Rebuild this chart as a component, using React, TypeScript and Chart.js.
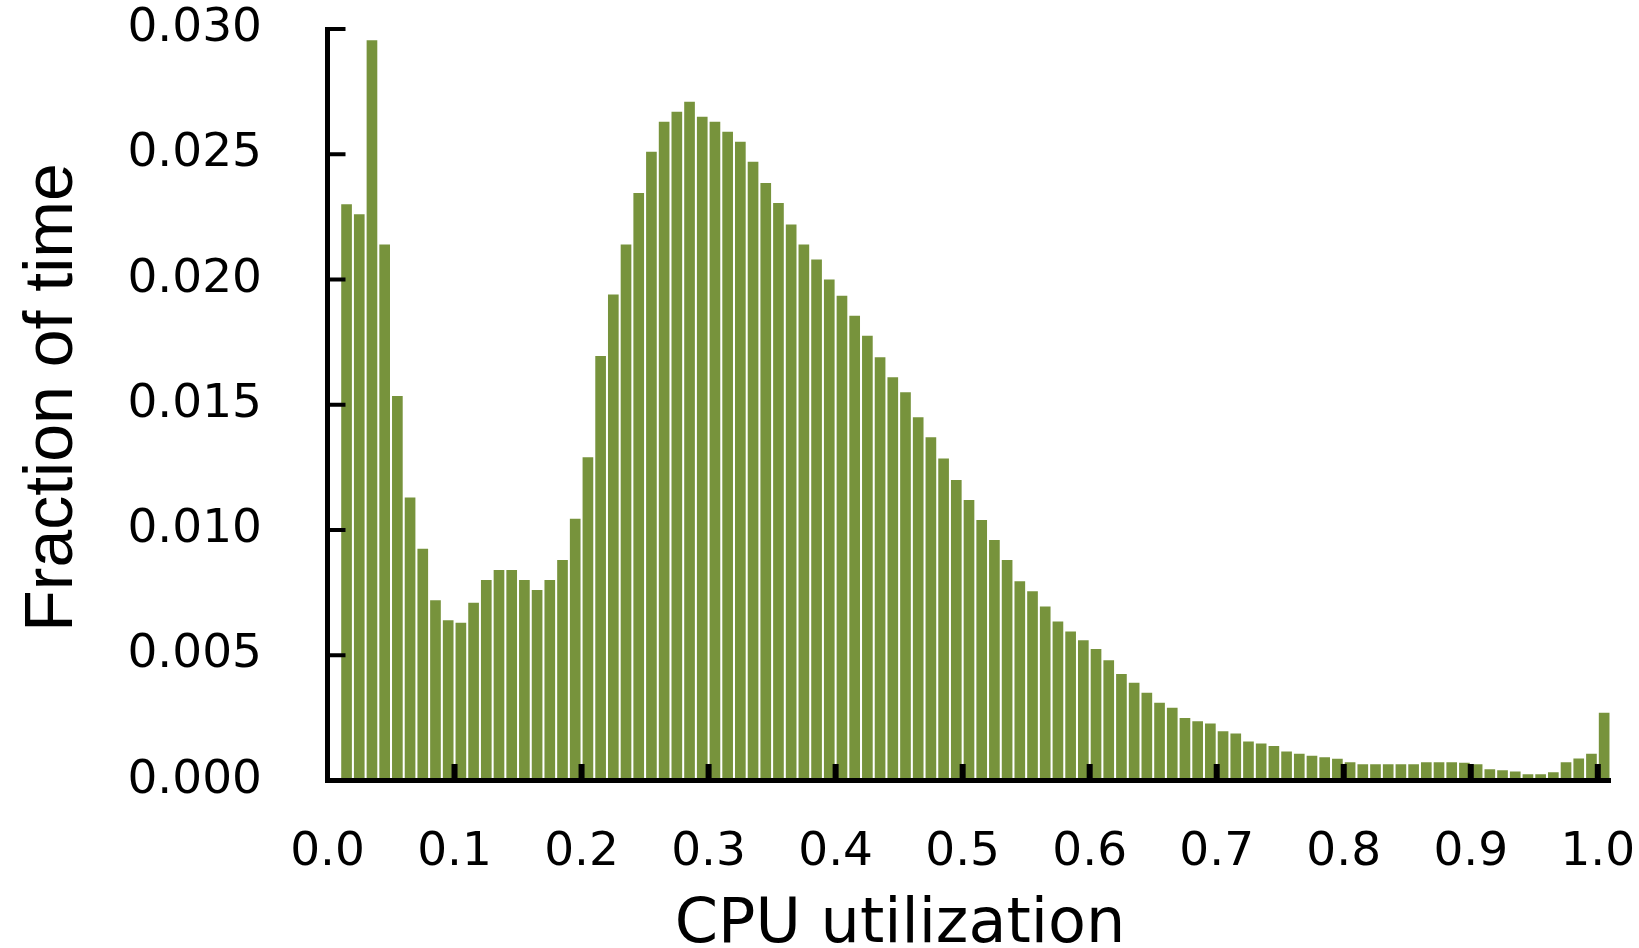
import React, { useEffect, useRef } from 'react';
import { Chart, registerables } from 'chart.js';

Chart.register(...registerables);

// Histogram bins: left edges start at 0.01, each 0.01 wide (100 bins)
const BIN_START = 0.01;
const BIN_WIDTH = 0.01;

// Fraction of time spent in each CPU-utilization bin
const FRACTION_OF_TIME = [
  0.0230, 0.0226, 0.02955, 0.0214, 0.01535, 0.0113, 0.00925, 0.0072, 0.0064, 0.0063,
  0.0071, 0.0080, 0.0084, 0.0084, 0.0080, 0.0076, 0.0080, 0.0088, 0.01045, 0.0129,
  0.01695, 0.0194, 0.0214, 0.02345, 0.0251, 0.0263, 0.0267, 0.0271, 0.0265, 0.0263,
  0.0259, 0.0255, 0.0247, 0.02385, 0.02305, 0.0222, 0.0214, 0.0208, 0.0200, 0.01935,
  0.01855, 0.01775, 0.0169, 0.0161, 0.0155, 0.0145, 0.0137, 0.01285, 0.0120, 0.0112,
  0.0104, 0.0096, 0.0088, 0.00795, 0.00755, 0.00695, 0.00635, 0.00595, 0.0056, 0.00525,
  0.0048, 0.00425, 0.0039, 0.0035, 0.0031, 0.0029, 0.0025, 0.00237, 0.00228, 0.00197,
  0.00188, 0.00156, 0.00148, 0.00138, 0.00116, 0.00107, 0.00099, 0.00093, 0.00087, 0.00073,
  0.00065, 0.00065, 0.00065, 0.00065, 0.00065, 0.00073, 0.00073, 0.00073, 0.00071, 0.00065,
  0.00045, 0.00041, 0.00036, 0.00025, 0.00025, 0.00033, 0.00073, 0.00088, 0.00107, 0.0027,
];

const X_TICKS = [0.0, 0.1, 0.2, 0.3, 0.4, 0.5, 0.6, 0.7, 0.8, 0.9, 1.0];
const X_TICK_LABELS = ['0.0', '0.1', '0.2', '0.3', '0.4', '0.5', '0.6', '0.7', '0.8', '0.9', '1.0'];
const Y_TICKS = [0.0, 0.005, 0.01, 0.015, 0.02, 0.025, 0.03];
const Y_TICK_LABELS = ['0.000', '0.005', '0.010', '0.015', '0.020', '0.025', '0.030'];

const X_TITLE = 'CPU utilization';
const Y_TITLE = 'Fraction of time';

const BAR_COLOR = '#77933C';
const TICK_FONT = "'DejaVu Sans', sans-serif";

const W = 1639;
const H = 948;

const zeroPadding = (scale: any) => {
  scale.paddingTop = 0;
  scale.paddingBottom = 0;
  scale.paddingLeft = 0;
  scale.paddingRight = 0;
};

const decorPlugin = {
  id: 'axisDecor',
  afterDatasetsDraw(chart: any) {
    const { ctx, chartArea, scales } = chart;
    const xs = scales.x;
    const ys = scales.y;
    ctx.save();
    ctx.fillStyle = '#000';
    // inward x tick marks
    X_TICKS.forEach((v) => {
      if (v === 0) return;
      const px = xs.getPixelForValue(v);
      ctx.fillRect(px - 3, chartArea.bottom - 16.5, 6, 16.5);
    });
    // inward y tick marks
    Y_TICKS.forEach((v) => {
      if (v === 0) return;
      const py = ys.getPixelForValue(v);
      ctx.fillRect(chartArea.left, py - 2, 18, 4);
    });
    ctx.restore();
  },
  afterDraw(chart: any) {
    const { ctx } = chart;
    ctx.save();
    ctx.fillStyle = '#000';
    // x axis title
    ctx.font = "62px 'DejaVu Sans', sans-serif";
    ctx.textAlign = 'center';
    ctx.textBaseline = 'alphabetic';
    ctx.fillText(X_TITLE, 900, 941.5);
    // y axis title (rotated)
    ctx.translate(71.5, 397.5);
    ctx.rotate(-Math.PI / 2);
    ctx.font = "68px 'Liberation Sans', sans-serif";
    ctx.textAlign = 'center';
    ctx.textBaseline = 'alphabetic';
    ctx.fillText(Y_TITLE, 0, 0);
    ctx.restore();
  },
};

export default function App() {
  const canvasRef = useRef<HTMLCanvasElement | null>(null);

  useEffect(() => {
    document.body.style.margin = '0';
    const canvas = canvasRef.current;
    if (!canvas) return;

    const points = FRACTION_OF_TIME.map((v, i) => ({
      x: BIN_START + i * BIN_WIDTH + BIN_WIDTH / 2,
      y: v,
    }));

    const chart = new Chart(canvas, {
      type: 'bar',
      data: {
        datasets: [
          {
            data: points as any,
            backgroundColor: BAR_COLOR,
            borderWidth: 0,
            barPercentage: 0.84,
            categoryPercentage: 1.0,
          },
        ],
      },
      options: {
        animation: false,
        responsive: false,
        devicePixelRatio: 1,
        layout: { padding: { top: 29, right: 28.5, left: 0, bottom: 0 } },
        plugins: {
          legend: { display: false },
          tooltip: { enabled: false },
          title: { display: false },
        },
        scales: {
          x: {
            type: 'linear',
            min: 0,
            max: 1.01,
            offset: false,
            grid: { display: false, offset: false, drawTicks: false },
            border: { display: true, color: '#000', width: 5, z: 1 },
            afterBuildTicks: (scale: any) => {
              scale.ticks = X_TICKS.map((value) => ({ value }));
            },
            afterFit: (scale: any) => {
              scale.height = H - 780.5;
              zeroPadding(scale);
            },
            ticks: {
              autoSkip: false,
              maxRotation: 0,
              minRotation: 0,
              padding: 44,
              color: '#000',
              font: { family: TICK_FONT, size: 47 },
              callback: (_v: any, index: number) => X_TICK_LABELS[index],
            },
          },
          y: {
            type: 'linear',
            min: 0,
            max: 0.03,
            grid: { display: false, drawTicks: false },
            border: { display: true, color: '#000', width: 5, z: 1 },
            afterBuildTicks: (scale: any) => {
              scale.ticks = Y_TICKS.map((value) => ({ value }));
            },
            afterFit: (scale: any) => {
              scale.width = 327.5;
              zeroPadding(scale);
            },
            ticks: {
              padding: 65.5,
              color: '#000',
              font: { family: TICK_FONT, size: 47 },
              callback: (_v: any, index: number) => Y_TICK_LABELS[index],
            },
          },
        },
      },
      plugins: [decorPlugin],
    });

    return () => {
      chart.destroy();
    };
  }, []);

  return (
    <div style={{ position: 'absolute', left: 0, top: 0, width: W, height: H, background: '#fff' }}>
      <canvas ref={canvasRef} width={W} height={H} style={{ display: 'block', width: W, height: H }} />
    </div>
  );
}
